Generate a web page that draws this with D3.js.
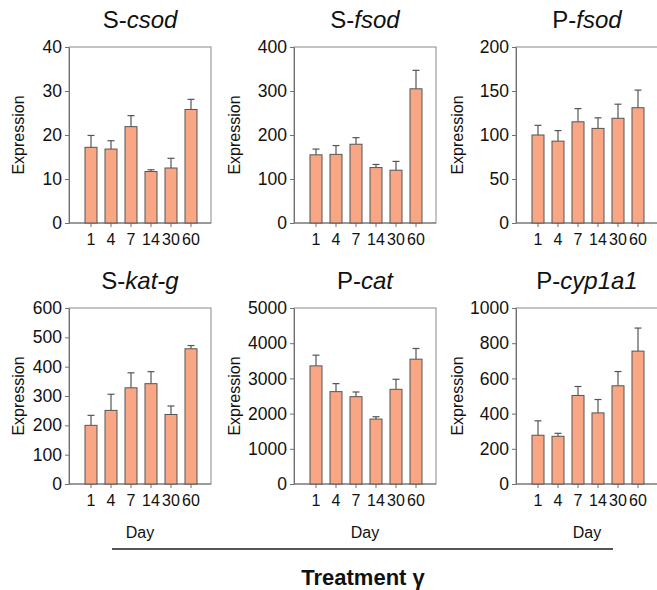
<!DOCTYPE html>
<html lang="en">
<head>
<meta charset="utf-8">
<title>Treatment gamma expression</title>
<script src="https://d3js.org/d3.v7.min.js"></script>
<style>
  body { margin: 0; background: #fff; }
  text { font-family: "Liberation Sans", Arial, sans-serif; fill: #111; }
</style>
</head>
<body>
<script>
// data
var days = ["1", "4", "7", "14", "30", "60"];
var prefixes = ["S-", "S-", "P-", "S-", "P-", "P-"];
var genes = ["csod", "fsod", "fsod", "kat-g", "cat", "cyp1a1"];
var yMax = [40, 400, 200, 600, 5000, 1000];
var yStep = [10, 100, 50, 100, 1000, 200];

var means = [
  [17.2, 16.8, 21.9, 11.7, 12.5, 25.8],
  [155, 156, 179, 126, 120, 305],
  [100, 93, 115, 107.5, 119, 131],
  [200, 251, 328, 342, 237, 461],
  [3356, 2624, 2481, 1844, 2690, 3546],
  [277, 271, 503, 404, 558, 755]
];
var errs = [
  [2.7, 1.9, 2.5, 0.4, 2.2, 2.3],
  [13, 20, 15, 7, 20, 42],
  [11, 12, 15, 12, 16, 20],
  [34, 55, 51, 41, 29, 11],
  [304, 228, 133, 67, 285, 304],
  [82, 17, 51, 76, 81, 131]
];

// layout
var colLeft = [69, 294, 516];
var colLabelX = [18, 234, 457];
var rowTop = [47, 308];
var plotW = 142, plotH = 176;
var font = "'Liberation Sans', Arial, sans-serif";

var svg = d3.select("body").append("svg")
  .attr("width", 657)
  .attr("height", 590);

genes.forEach(function (g, p) {
  var col = p % 3, row = Math.floor(p / 3);
  var x0 = colLeft[col], y0 = rowTop[row];

  var x = d3.scaleBand()
    .domain(days)
    .range([x0 + 12, x0 + plotW - 10])
    .paddingInner(0.4)
    .paddingOuter(0.2);

  var y = d3.scaleLinear()
    .domain([0, yMax[p]])
    .range([y0 + plotH, y0]);

  var panel = svg.append("g").attr("class", "panel");

  // frame
  panel.append("rect")
    .attr("x", x0).attr("y", y0)
    .attr("width", plotW).attr("height", plotH)
    .attr("fill", "none")
    .attr("stroke", "#8a8a8a")
    .attr("stroke-width", 1);

  // y axis
  var yAxis = panel.append("g")
    .attr("transform", "translate(" + x0 + ",0)")
    .call(d3.axisLeft(y)
      .tickValues(d3.range(0, yMax[p] + 1, yStep[p]))
      .tickFormat(d3.format("d"))
      .tickSize(4).tickSizeOuter(0).tickPadding(3));
  yAxis.select(".domain").attr("stroke", "#707070");
  yAxis.selectAll(".tick line").attr("stroke", "#707070");
  yAxis.selectAll("text").attr("font-size", 17.5)
    .attr("font-family", font).attr("fill", "#111");

  // x axis
  var xAxis = panel.append("g")
    .attr("transform", "translate(0," + (y0 + plotH) + ")")
    .call(d3.axisBottom(x).tickSize(4).tickSizeOuter(0).tickPadding(7));
  xAxis.select(".domain").remove();
  xAxis.selectAll(".tick line").attr("stroke", "#707070");
  xAxis.selectAll("text").attr("font-size", 16)
    .attr("font-family", font).attr("fill", "#111");
  panel.append("line")
    .attr("x1", x0).attr("x2", x0 + plotW)
    .attr("y1", y0 + plotH).attr("y2", y0 + plotH)
    .attr("stroke", "#707070");

  var rows = days.map(function (d, i) { return { day: d, m: means[p][i], e: errs[p][i] }; });

  // error bars (upper only)
  panel.append("g").selectAll("line.err")
    .data(rows).enter().append("line")
    .attr("x1", function (d) { return x(d.day) + x.bandwidth() / 2; })
    .attr("x2", function (d) { return x(d.day) + x.bandwidth() / 2; })
    .attr("y1", function (d) { return y(d.m); })
    .attr("y2", function (d) { return y(d.m + d.e); })
    .attr("stroke", "#555").attr("stroke-width", 1.2);
  panel.append("g").selectAll("line.cap")
    .data(rows).enter().append("line")
    .attr("x1", function (d) { return x(d.day) + x.bandwidth() / 2 - 3.5; })
    .attr("x2", function (d) { return x(d.day) + x.bandwidth() / 2 + 3.5; })
    .attr("y1", function (d) { return y(d.m + d.e); })
    .attr("y2", function (d) { return y(d.m + d.e); })
    .attr("stroke", "#555").attr("stroke-width", 1.2);

  // bars
  panel.append("g").selectAll("rect")
    .data(rows).enter().append("rect")
    .attr("x", function (d) { return x(d.day); })
    .attr("y", function (d) { return y(d.m); })
    .attr("width", x.bandwidth())
    .attr("height", function (d) { return y(0) - y(d.m); })
    .attr("fill", "#f9a685")
    .attr("stroke", "#555")
    .attr("stroke-width", 1);

  // title
  var t = panel.append("text")
    .attr("x", x0 + plotW / 2)
    .attr("y", y0 - 19)
    .attr("text-anchor", "middle")
    .attr("font-size", 24);
  t.append("tspan").text(prefixes[p]);
  t.append("tspan").attr("font-style", "italic").text(g);

  // y label
  panel.append("text")
    .attr("transform", "translate(" + colLabelX[col] + "," + (y0 + plotH / 2) + ") rotate(-90)")
    .attr("text-anchor", "middle")
    .attr("dy", "0.35em")
    .attr("font-size", 16)
    .text("Expression");

  if (row === 1) {
    panel.append("text")
      .attr("x", x0 + plotW / 2)
      .attr("y", y0 + plotH + 54)
      .attr("text-anchor", "middle")
      .attr("font-size", 16)
      .text("Day");
  }
});

// treatment bracket
svg.append("line")
  .attr("x1", 112).attr("x2", 613)
  .attr("y1", 549).attr("y2", 549)
  .attr("stroke", "#555").attr("stroke-width", 2);

svg.append("text")
  .attr("x", 363)
  .attr("y", 585)
  .attr("text-anchor", "middle")
  .attr("font-size", 22)
  .attr("font-weight", "bold")
  .text("Treatment \u03b3");
</script>
</body>
</html>
